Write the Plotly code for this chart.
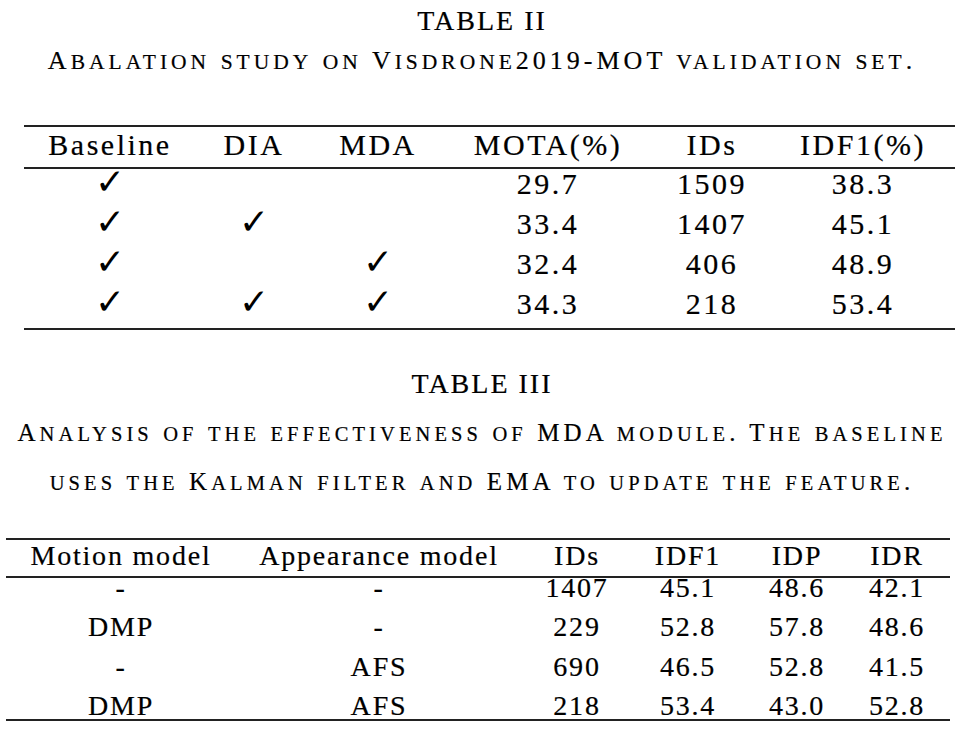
import re
import plotly.graph_objects as go

# ---------------- data ----------------
t2_title = "TABLE II"
t2_caption = "Abalation study on Visdrone2019-MOT validation set."
t2_headers = ["Baseline", "DIA", "MDA", "MOTA(%)", "IDs", "IDF1(%)"]
t2_baseline = [True, True, True, True]
t2_dia = [False, True, False, True]
t2_mda = [False, False, True, True]
t2_mota = [29.7, 33.4, 32.4, 34.3]
t2_ids = [1509, 1407, 406, 218]
t2_idf1 = [38.3, 45.1, 48.9, 53.4]

t3_title = "TABLE III"
t3_caption = ["Analysis of the effectiveness of MDA module. The baseline",
              "uses the Kalman filter and EMA to update the feature."]
t3_headers = ["Motion model", "Appearance model", "IDs", "IDF1", "IDP", "IDR"]
t3_motion = ["-", "DMP", "-", "DMP"]
t3_appear = ["-", "-", "AFS", "AFS"]
t3_ids = [1407, 229, 690, 218]
t3_idf1 = [45.1, 52.8, 46.5, 53.4]
t3_idp = [48.6, 57.8, 52.8, 43.0]
t3_idr = [42.1, 48.6, 41.5, 52.8]

# ---------------- layout / style ----------------
W, H = 964, 730
SERIF = "Liberation Serif, Times New Roman, serif"
CHECK_FONT = "DejaVu Sans"
INK = "#000000"
RULE = "#222222"
STROKE = "stroke:#000;stroke-width:0.2px"

T2_SIZE, T2_LS = 30, "2.5px"
T3_SIZE, T3_LS = 28, "1.8px"

T2_COLS = [110, 254, 378, 548, 712, 863]
T2_HEAD_Y, T2_ROW0, T2_PITCH = 147, 186, 40
T2_RULES_Y = [126, 168, 329]
T2_X0, T2_X1 = 24, 955

T3_COLS = [121, 379, 577, 688, 797, 897]
T3_HEAD_Y, T3_ROW0, T3_PITCH = 558, 590, 39.3
T3_RULES_Y = [539, 577, 720]
T3_X0, T3_X1 = 6, 950

CX = W / 2


def sp(s, ls):
    return f'<span style="letter-spacing:{ls};{STROKE}">{s}</span>'


def small_caps(s, big, small, ls):
    parts = re.findall(r"[a-z]+|[^a-z]+", s)
    out = []
    for p in parts:
        if p.islower():
            out.append(f'<span style="font-size:{small}px;letter-spacing:{ls};{STROKE}">{p.upper()}</span>')
        else:
            out.append(f'<span style="font-size:{big}px;letter-spacing:{ls};{STROKE}">{p}</span>')
    return "".join(out)


fig = go.Figure()


def add_text(xs, ys, texts, size, family=SERIF):
    fig.add_trace(go.Scatter(
        x=xs, y=ys, text=texts, mode="text", textposition="middle center",
        textfont=dict(family=family, size=size, color=INK),
        hoverinfo="skip", showlegend=False, cliponaxis=False))


# captions
add_text([CX], [23], [sp(t2_title, "2px")], size=28)
add_text([CX], [62], [small_caps(t2_caption, 26, 21.5, "4px")], size=26)
add_text([CX], [386], [sp(t3_title, "2px")], size=28)
add_text([CX, CX], [435, 484], [small_caps(c, 25, 20.5, "4.1px") for c in t3_caption], size=25)

# Table II
add_text(T2_COLS, [T2_HEAD_Y] * len(T2_COLS), [sp(h, T2_LS) for h in t2_headers], T2_SIZE)
rows2 = [T2_ROW0 + i * T2_PITCH for i in range(len(t2_mota))]
for ci, flags in enumerate([t2_baseline, t2_dia, t2_mda]):
    xs = [T2_COLS[ci] for f in flags if f]
    ys = [rows2[i] - 1 for i, f in enumerate(flags) if f]
    add_text(xs, ys, ["\u2713"] * len(xs), size=36, family=CHECK_FONT)
add_text([T2_COLS[3]] * 4, rows2, [sp(f"{v:.1f}", T2_LS) for v in t2_mota], T2_SIZE)
add_text([T2_COLS[4]] * 4, rows2, [sp(f"{v:d}", T2_LS) for v in t2_ids], T2_SIZE)
add_text([T2_COLS[5]] * 4, rows2, [sp(f"{v:.1f}", T2_LS) for v in t2_idf1], T2_SIZE)

# Table III
add_text(T3_COLS, [T3_HEAD_Y] * len(T3_COLS), [sp(h, T3_LS) for h in t3_headers], T3_SIZE)
rows3 = [T3_ROW0 + i * T3_PITCH for i in range(len(t3_ids))]
add_text([T3_COLS[0]] * 4, rows3, [sp(v, T3_LS) for v in t3_motion], T3_SIZE)
add_text([T3_COLS[1]] * 4, rows3, [sp(v, T3_LS) for v in t3_appear], T3_SIZE)
add_text([T3_COLS[2]] * 4, rows3, [sp(f"{v:d}", T3_LS) for v in t3_ids], T3_SIZE)
add_text([T3_COLS[3]] * 4, rows3, [sp(f"{v:.1f}", T3_LS) for v in t3_idf1], T3_SIZE)
add_text([T3_COLS[4]] * 4, rows3, [sp(f"{v:.1f}", T3_LS) for v in t3_idp], T3_SIZE)
add_text([T3_COLS[5]] * 4, rows3, [sp(f"{v:.1f}", T3_LS) for v in t3_idr], T3_SIZE)

# rules
for y in T2_RULES_Y:
    fig.add_shape(type="line", xref="x", yref="y", x0=T2_X0, x1=T2_X1, y0=y, y1=y,
                  line=dict(color=RULE, width=2), layer="below")
for y in T3_RULES_Y:
    fig.add_shape(type="line", xref="x", yref="y", x0=T3_X0, x1=T3_X1, y0=y, y1=y,
                  line=dict(color=RULE, width=2), layer="below")

fig.update_layout(
    width=W, height=H, margin=dict(l=0, r=0, t=0, b=0),
    paper_bgcolor="white", plot_bgcolor="white",
    xaxis=dict(range=[0, W], visible=False, fixedrange=True),
    yaxis=dict(range=[H, 0], visible=False, fixedrange=True),
)

fig.write_html(
    "out.html",
    config={"displayModeBar": False},
    post_script="document.body.style.margin='0';document.body.style.overflow='hidden';",
)
